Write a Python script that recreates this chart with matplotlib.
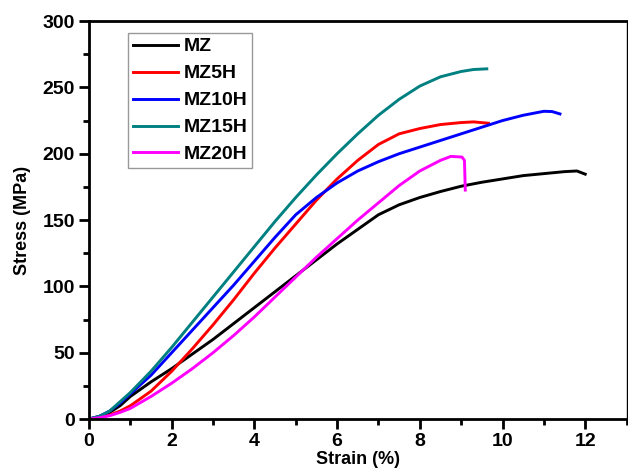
import matplotlib
matplotlib.use("Agg")
import matplotlib.pyplot as plt
from matplotlib.ticker import MultipleLocator

plt.rcParams['font.family'] = ['Liberation Sans', 'DejaVu Sans']
plt.rcParams['font.weight'] = 'bold'

# strain (%) / stress (MPa)
mz_x = [0, 0.25, 0.5, 0.75, 1.0, 1.5, 2.0, 2.5, 3.0, 3.5, 4.0, 4.5, 5.0, 5.5, 6.0, 6.5, 7.0, 7.5, 8.0,
        8.5, 9.0, 9.5, 10.0, 10.5, 11.0, 11.5, 11.8, 12.0]
mz_y = [0, 2, 5, 10, 17, 28, 38, 49, 60, 72, 84, 96, 108, 120, 132, 143, 154, 161.5, 167,
        171.5, 175.5, 178.5, 181, 183.5, 185, 186.5, 187, 184.6]

mz5_x = [0, 0.25, 0.5, 0.75, 1.0, 1.5, 2.0, 2.5, 3.0, 3.5, 4.0, 4.5, 5.0, 5.5, 6.0, 6.5, 7.0, 7.5, 8.0,
         8.5, 9.0, 9.3, 9.66]
mz5_y = [0, 1, 3, 6, 10, 21, 36, 53, 71, 90, 110, 129, 147, 165, 181, 195, 207, 215, 219,
         222, 223.5, 224, 223]

mz10_x = [0, 0.25, 0.5, 0.75, 1.0, 1.5, 2.0, 2.5, 3.0, 3.5, 4.0, 4.5, 5.0, 5.5, 6.0, 6.5, 7.0, 7.5, 8.0,
          8.5, 9.0, 9.5, 10.0, 10.5, 11.0, 11.2, 11.39]
mz10_y = [0, 2, 6, 12, 19, 33, 50, 67, 84, 101, 119, 137, 154, 167, 178, 187, 194, 200, 205,
          210, 215, 220, 225, 229, 232, 231.8, 230]

mz15_x = [0, 0.25, 0.5, 0.75, 1.0, 1.5, 2.0, 2.5, 3.0, 3.5, 4.0, 4.5, 5.0, 5.5, 6.0, 6.5, 7.0, 7.5, 8.0,
          8.5, 9.0, 9.3, 9.62]
mz15_y = [0, 2, 6, 13, 20, 36, 54, 73, 92, 111, 130, 149, 167, 184, 200, 215, 229, 241, 251,
          258, 262, 263.5, 264]

mz20_x = [0, 0.25, 0.5, 0.75, 1.0, 1.5, 2.0, 2.5, 3.0, 3.5, 4.0, 4.5, 5.0, 5.5, 6.0, 6.5, 7.0, 7.5, 8.0,
          8.5, 8.75, 9.02, 9.08, 9.1]
mz20_y = [0, 1, 2.5, 5, 8, 17, 27, 38, 50, 63, 77, 92, 107, 122, 136, 150, 163, 176, 187,
          195, 198, 197.5, 195, 172.6]

labels = ['MZ', 'MZ5H', 'MZ10H', 'MZ15H', 'MZ20H']
colors = ['black', '#ff0000', '#0000ff', '#008080', '#ff00ff']
xs = [mz_x, mz5_x, mz10_x, mz15_x, mz20_x]
ys = [mz_y, mz5_y, mz10_y, mz15_y, mz20_y]

fig = plt.figure(figsize=(6.28, 4.76), dpi=100)
ax = fig.add_axes([0.1417, 0.1197, 0.856, 0.836])

for x, y, lab, col in zip(xs, ys, labels, colors):
    ax.plot(x, y, color=col, lw=2.1, label=lab, solid_joinstyle='round')

ax.set_xlim(0, 13)
ax.set_ylim(0, 300)
ax.xaxis.set_major_locator(MultipleLocator(2))
ax.xaxis.set_minor_locator(MultipleLocator(1))
ax.yaxis.set_major_locator(MultipleLocator(50))
ax.yaxis.set_minor_locator(MultipleLocator(25))
ax.tick_params(which='major', direction='out', length=7, width=2, labelsize=14, pad=3)
ax.tick_params(which='minor', direction='out', length=4, width=2)
for lab in ax.get_xticklabels() + ax.get_yticklabels():
    lab.set_fontweight('bold')

for side in ['left', 'bottom', 'top']:
    ax.spines[side].set_linewidth(2)
ax.spines['right'].set_linewidth(1)

ax.set_xlabel('Strain (%)', fontsize=13, fontweight='bold', labelpad=1)
ax.set_ylabel('Stress (MPa)', fontsize=13, fontweight='bold', labelpad=8)

leg = ax.legend(loc='upper left', bbox_to_anchor=(0.0725, 0.97), fancybox=False,
                prop={'size': 14, 'weight': 'bold'}, handlelength=2.3,
                labelspacing=0.48, borderpad=0.25, handletextpad=0.3, borderaxespad=0)
leg.get_frame().set_edgecolor('#808080')
leg.get_frame().set_linewidth(1)

fig.savefig('out.png', dpi=100)
